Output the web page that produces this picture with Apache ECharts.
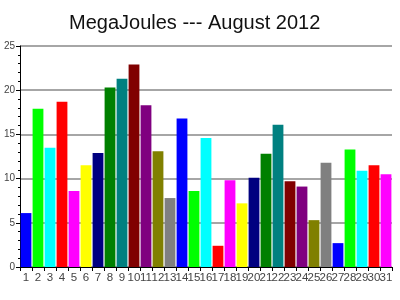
<!DOCTYPE html>
<html><head><meta charset="utf-8">
<script src="https://cdn.jsdelivr.net/npm/echarts@6/dist/echarts.min.js"></script>
<style>html,body{margin:0;padding:0;background:#fff}#c{width:400px;height:300px}</style>
</head><body><div id="c"></div>
<script>
const days = ['1','2','3','4','5','6','7','8','9','10','11','12','13','14','15','16','17','18','19','20','21','22','23','24','25','26','27','28','29','30','31'];
const megajoules = [6.1,17.9,13.5,18.7,8.6,11.5,12.9,20.3,21.3,22.9,18.3,13.1,7.8,16.8,8.6,14.6,2.4,9.8,7.2,10.1,12.8,16.1,9.7,9.1,5.3,11.8,2.7,13.3,10.9,11.5,10.5];
const palette = ['#0000FF','#00FF00','#00FFFF','#FF0000','#FF00FF','#FFFF00','#000080','#008000','#008080','#800000','#800080','#808000','#808080'];
const yTicks = [0,5,10,15,20,25];

const chart = echarts.init(document.getElementById('c'));
chart.setOption({
  animation:false,
  backgroundColor:'#fff',
  title:{text:'MegaJoules --- August 2012',left:64,top:8,
    textStyle:{fontFamily:'Liberation Sans',fontSize:20,fontWeight:'normal',color:'#111'}},
  grid:{left:20,right:8,top:46,bottom:33},
  xAxis:{type:'category',data:days,boundaryGap:true,
    axisLine:{lineStyle:{color:'#000',width:1}},
    axisTick:{show:true,interval:0,length:4,lineStyle:{color:'#000'}},
    axisLabel:{interval:0,margin:5,fontFamily:'Liberation Sans',fontSize:11.5,color:'#444'}},
  yAxis:{type:'value',min:yTicks[0],max:yTicks[yTicks.length-1],interval:5,
    axisLine:{show:true,lineStyle:{color:'#000'}},
    axisTick:{show:true,length:4,lineStyle:{color:'#000'}},
    minorTick:{show:true,splitNumber:5,length:2,lineStyle:{color:'#000'}},
    splitLine:{show:true,lineStyle:{color:'#888',width:1.5}},
    axisLabel:{margin:5,fontFamily:'Liberation Sans',fontSize:10,color:'#444'}},
  series:[{type:'bar',data:megajoules,barCategoryGap:'10%',
    itemStyle:{color:p=>palette[p.dataIndex%palette.length]}}]
});
</script></body></html>
